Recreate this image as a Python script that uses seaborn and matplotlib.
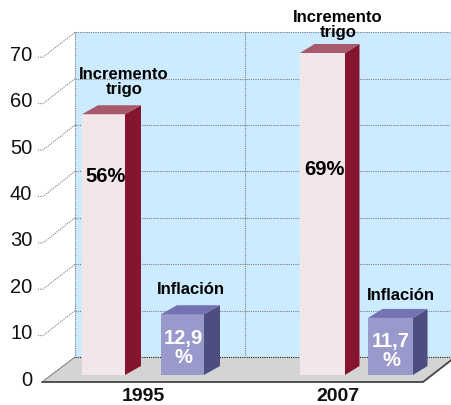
import matplotlib
matplotlib.use("Agg")
import matplotlib.pyplot as plt
import pandas as pd
import seaborn as sns
from matplotlib.patches import Polygon
from matplotlib.transforms import Affine2D

years = ["1995", "2007"]
series = ["Incremento trigo", "Inflación", "Incremento trigo", "Inflación"]
bar_heights = [56.2, 13.1, 69.4, 12.3]
bar_labels = ["56%", "12,9\n%", "69%", "11,7\n%"]
y_ticks = [0, 10, 20, 30, 40, 50, 60, 70]

# layout, in pixels of the 452x405 picture
W, H = 452, 405
PX_PER_UNIT = 4.64
BASE = 375
centers = [103.5, 182.5, 322.5, 390.5]
widths = [43, 43, 45, 45]
depths = [16, 16, 14.5, 14.5]
RISE = 9
WALL_L, WALL_R, WALL_T, WALL_B = 75, 452, 32.2, 357
FRONT_Y, FRONT_L, FRONT_R = 382, 42, 423

front_cols = {"Incremento trigo": "#F2E6E8", "Inflación": "#9999CC"}
side_cols = {"Incremento trigo": "#85152F", "Inflación": "#4D4D80"}
top_cols = {"Incremento trigo": "#A85A6C", "Inflación": "#7373B3"}

sns.set_style("white")
plt.rcParams["font.family"] = ["Liberation Sans", "DejaVu Sans"]

df = pd.DataFrame({"x": centers, "serie": series, "valor": bar_heights})

fig = plt.figure(figsize=(W / 100, H / 100), dpi=100)

# axis with the tick labels
scale_ax = fig.add_axes([FRONT_L / W, (H - 378) / H, (FRONT_R - FRONT_L) / W, 70 * PX_PER_UNIT / H])
scale_ax.set_xlim(FRONT_L, FRONT_R)
scale_ax.set_ylim(0, 70)
scale_ax.set_yticks(y_ticks)
scale_ax.set_xticks([143, 338], years, fontweight="bold", fontsize=14)
scale_ax.tick_params(axis="y", length=0, pad=7, labelsize=14.5, labelcolor="#111111")
scale_ax.tick_params(axis="x", length=0, pad=7, labelcolor="#111111")
scale_ax.patch.set_visible(False)
sns.despine(ax=scale_ax, left=True, bottom=True)

ax = fig.add_axes([0, 0, 1, 1])
ax.patch.set_visible(False)
sns.barplot(data=df, x="x", y="valor", hue="serie", palette=front_cols, dodge=False,
            native_scale=True, width=0.65, legend=False, saturation=1, ax=ax, zorder=5,
            edgecolor="none", linewidth=0)
ax.set_xlim(0, W)
ax.set_ylim((BASE - H) / PX_PER_UNIT, BASE / PX_PER_UNIT)
ax.axis("off")

# pixels with the origin top left
px = Affine2D().scale(1, -1).translate(0, H)

ax.add_patch(Polygon([(WALL_L, WALL_T), (WALL_R, WALL_T), (WALL_R, WALL_B), (WALL_L, WALL_B)],
                     fc="#CCEBFF", ec="none", transform=px, zorder=1))
ax.add_patch(Polygon([(FRONT_L, FRONT_Y), (FRONT_R, FRONT_Y), (FRONT_R + 33, WALL_B), (WALL_L, WALL_B)],
                     fc="#D4D4D4", ec="none", transform=px, zorder=3))

grid = dict(color="#808080", lw=0.8, ls=(0, (1, 1)), transform=px, zorder=2)
for t in y_ticks[1:]:
    front = FRONT_Y - t * PX_PER_UNIT
    back = WALL_B - t * PX_PER_UNIT
    ax.plot([38, FRONT_L + 1, WALL_L], [front, front, back], **grid)
    ax.plot([WALL_L, WALL_R], [back, back], **grid)
ax.plot([WALL_L, WALL_L], [WALL_T, WALL_B], **grid)
ax.plot([245, 245], [WALL_T, WALL_B], **grid)
ax.plot([WALL_L, WALL_R], [WALL_B, WALL_B], color="#222222", lw=0.8, ls=(0, (1, 1)), transform=px, zorder=3)
ax.plot([FRONT_L, FRONT_R, WALL_R], [FRONT_Y, FRONT_Y, 359.5], color="#444444", lw=1.3, transform=px, zorder=4)
ax.plot([FRONT_L, WALL_L], [FRONT_Y, WALL_B], color="#666666", lw=0.6, transform=px, zorder=4)

# 3d faces follow the bars
bars = {}
for container in ax.containers:
    for patch in container:
        if patch.get_height() > 0:
            bars[round(patch.get_x() + patch.get_width() / 2, 1)] = patch

rise = RISE / PX_PER_UNIT
for c, w, d, name, h in zip(centers, widths, depths, series, bar_heights):
    patch = bars[round(c, 1)]
    patch.set_x(c - w / 2)
    patch.set_width(w)
    l, r = c - w / 2, c + w / 2
    ax.add_patch(Polygon([(r, 0), (r + d, rise), (r + d, h + rise), (r, h)],
                         fc=side_cols[name], ec="none", zorder=6))
    ax.add_patch(Polygon([(l, h), (r, h), (r + d, h + rise), (l + d, h + rise)],
                         fc=top_cols[name], ec="none", zorder=6))

big = dict(ha="center", va="center", fontweight="bold", fontsize=14.5, linespacing=1.0, transform=px, zorder=7)
ax.text(106, 176, bar_labels[0], color="black", **big)
ax.text(324, 169.5, bar_labels[2], color="black", **big)
ax.text(183, 348, bar_labels[1], color="white", **big)
ax.text(391, 351, bar_labels[3], color="white", **big)

small = dict(ha="center", va="center", fontweight="bold", fontsize=12, linespacing=1.0, color="black",
             transform=px, zorder=7)
ax.text(124, 82, "Incremento\ntrigo", **small)
ax.text(338, 25.5, "Incremento\ntrigo", **small)
ax.text(191, 289, "Inflación", **small)
ax.text(401, 295, "Inflación", **small)

fig.savefig("out.png", dpi=100)
